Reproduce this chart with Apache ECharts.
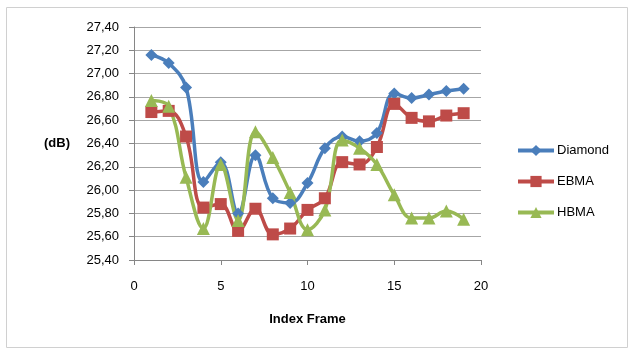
<!DOCTYPE html>
<html><head><meta charset="utf-8">
<script src="https://cdn.jsdelivr.net/npm/echarts@6/dist/echarts.min.js"></script>
<style>html,body{margin:0;padding:0;background:#fff}#c{width:635px;height:351px}</style>
</head><body><div id="c"></div>
<script>
const frames = [1,2,3,4,5,6,7,8,9,10,11,12,13,14,15,16,17,18,19];
const diamond = [27.16,27.09,26.88,26.07,26.24,25.80,26.30,25.93,25.89,26.06,26.36,26.46,26.42,26.49,26.83,26.79,26.82,26.85,26.87];
const ebma = [26.67,26.68,26.46,25.85,25.88,25.65,25.84,25.62,25.67,25.83,25.93,26.24,26.22,26.37,26.74,26.62,26.59,26.64,26.66];
const hbma = [26.77,26.72,26.11,25.67,26.22,25.74,26.50,26.28,25.98,25.66,25.83,26.43,26.36,26.22,25.96,25.76,25.76,25.82,25.75];
const yTicks = ['25,40','25,60','25,80','26,00','26,20','26,40','26,60','26,80','27,00','27,20','27,40'];

const font = 'Liberation Sans, Arial, sans-serif';
const pair = (ys) => frames.map((x, i) => [x, ys[i]]);
const chart = echarts.init(document.getElementById('c'));
const mk = (name, data, color, symbol, size) => ({
  name, type: 'line', data: pair(data), smooth: 0.4,
  symbol, symbolSize: size,
  lineStyle: { color, width: 3.5 },
  itemStyle: { color },
  emphasis: { disabled: true }
});
chart.setOption({
  animation: false,
  graphic: [{ type: 'rect', shape: { x: 6.5, y: 7.5, width: 621, height: 340 }, style: { fill: 'none', stroke: '#d0d0d0', lineWidth: 1 } }],
  grid: { left: 134, top: 27, width: 347, height: 233 },
  legend: {
    orient: 'vertical', left: 511, top: 139, itemGap: 18, itemWidth: 36, itemHeight: 14,
    lineStyle: { width: 4 },
    textStyle: { fontFamily: font, fontSize: 13, color: '#000', padding: [0, 0, 0, -2] },
    data: ['Diamond', 'EBMA', 'HBMA']
  },
  xAxis: {
    type: 'value', min: 0, max: 20, interval: 5,
    name: 'Index Frame', nameLocation: 'middle', nameGap: 53,
    nameTextStyle: { fontFamily: font, fontSize: 13, fontWeight: 'bold', color: '#000' },
    axisLine: { lineStyle: { color: '#868686' } },
    axisTick: { show: true, length: 5, lineStyle: { color: '#868686' } },
    axisLabel: { fontFamily: font, fontSize: 13, color: '#000', margin: 20 },
    splitLine: { show: false }
  },
  yAxis: {
    type: 'value', min: 25.4, max: 27.4, interval: 0.2,
    name: '(dB)', nameLocation: 'middle', nameRotate: 0, nameGap: 64,
    nameTextStyle: { fontFamily: font, fontSize: 13, fontWeight: 'bold', color: '#000' },
    axisLine: { show: true, lineStyle: { color: '#868686' } },
    axisTick: { show: true, length: 5, lineStyle: { color: '#868686' } },
    axisLabel: { fontFamily: font, fontSize: 13, color: '#000', margin: 15,
      formatter: (v) => yTicks[Math.round((v - 25.4) / 0.2)] },
    splitLine: { lineStyle: { color: '#a6a6a6', width: 1 } }
  },
  series: [
    mk('Diamond', diamond, '#4A7EBB', 'diamond', 12),
    mk('EBMA', ebma, '#BE4B48', 'rect', 12),
    mk('HBMA', hbma, '#98B954', 'triangle', 13)
  ]
});
</script></body></html>
